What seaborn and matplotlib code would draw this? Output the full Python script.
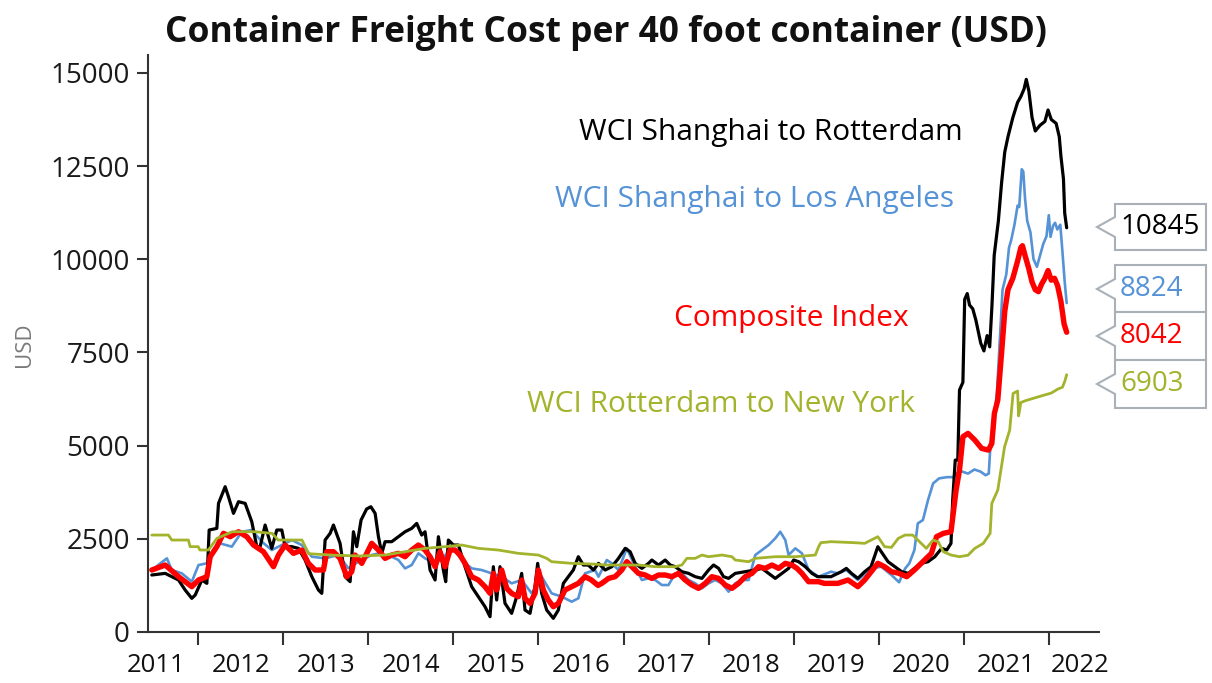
import matplotlib
matplotlib.use("Agg")
import matplotlib.pyplot as plt
from matplotlib.patches import Polygon
import seaborn as sns

# --- data (decimal year, USD) ---
rtm_t = [2011.455, 2011.612, 2011.769, 2011.847, 2011.925, 2011.965, 2012.043, 2012.102, 2012.129, 2012.219,
         2012.239, 2012.317, 2012.356, 2012.415, 2012.474, 2012.552, 2012.63, 2012.689, 2012.728, 2012.787,
         2012.865, 2012.924, 2012.983, 2013.022, 2013.1, 2013.179, 2013.257, 2013.336, 2013.414, 2013.453,
         2013.492, 2013.551, 2013.59, 2013.668, 2013.727, 2013.786, 2013.825, 2013.864, 2013.915, 2013.98,
         2014.03, 2014.08, 2014.119, 2014.158, 2014.197, 2014.275, 2014.354, 2014.432, 2014.51, 2014.569,
         2014.628, 2014.667, 2014.726, 2014.785, 2014.824, 2014.882, 2014.91, 2014.941, 2015.0, 2015.059,
         2015.137, 2015.215, 2015.294, 2015.372, 2015.431, 2015.47, 2015.509, 2015.548, 2015.607, 2015.685,
         2015.744, 2015.803, 2015.842, 2015.901, 2015.96, 2015.991, 2016.038, 2016.097, 2016.175, 2016.234,
         2016.293, 2016.351, 2016.41, 2016.469, 2016.528, 2016.586, 2016.647, 2016.706, 2016.784, 2016.863,
         2016.941, 2017.02, 2017.078, 2017.137, 2017.216, 2017.294, 2017.333, 2017.412, 2017.49, 2017.549,
         2017.608, 2017.686, 2017.765, 2017.843, 2017.922, 2018.0, 2018.059, 2018.118, 2018.176, 2018.235,
         2018.314, 2018.431, 2018.549, 2018.627, 2018.706, 2018.784, 2018.863, 2018.941, 2019.0, 2019.059,
         2019.137, 2019.216, 2019.28, 2019.44, 2019.56, 2019.62, 2019.68, 2019.755, 2019.835, 2019.91,
         2019.99, 2020.03, 2020.11, 2020.19, 2020.27, 2020.35, 2020.42, 2020.5, 2020.58, 2020.66,
         2020.74, 2020.8, 2020.85, 2020.87, 2020.9, 2020.93, 2020.95, 2020.99,
         2021.011, 2021.041, 2021.068, 2021.106, 2021.143, 2021.2, 2021.237, 2021.275, 2021.305, 2021.332,
         2021.358, 2021.407, 2021.445, 2021.482, 2021.52, 2021.577, 2021.633, 2021.671, 2021.709, 2021.735,
         2021.765, 2021.803, 2021.841, 2021.897, 2021.954, 2021.991, 2022.029, 2022.086, 2022.123, 2022.142,
         2022.172, 2022.187, 2022.21]
rtm_v = [1529, 1573, 1395, 1126, 903, 992, 1395, 1305, 2736, 2780,
         3451, 3898, 3630, 3183, 3496, 3451, 2959, 2289, 2289, 2870,
         2244, 2736, 2736, 2289, 2289, 2244, 1931, 1484, 1126, 1037,
         2467, 2646, 2870, 2378, 1484, 1350, 2690, 2289, 3004, 3300,
         3361, 3183, 2557, 2110, 2423, 2423, 2557, 2690, 2780, 2914,
         2601, 2690, 1663, 1395, 2557, 1663, 1350, 2467, 2333, 2333,
         1752, 1216, 948, 679, 411, 1752, 858, 1752, 769, 500,
         948, 1573, 590, 500, 1216, 1842, 1037, 590, 367, 590,
         1305, 1484, 1663, 2020, 1797, 1797, 1663, 1842, 1663, 1752,
         1976, 2244, 2154, 1842, 1707, 1842, 1931, 1797, 1931, 1797,
         1752, 1618, 1573, 1484, 1439, 1663, 1797, 1707, 1484, 1439,
         1573, 1618, 1663, 1707, 1573, 1439, 1573, 1707, 1931, 1886,
         1752, 1573, 1484, 1484, 1618, 1707, 1573, 1439, 1618, 1752,
         2289, 2154, 1886, 1752, 1618, 1573, 1707, 1842, 1886, 2020,
         2244, 2199, 2378, 3540, 4613, 4613, 6490, 6700,
         8926, 9080, 8772, 8670, 8362, 7746, 7541, 7952, 7650, 8772,
         10106, 11030, 12056, 12876, 13287, 13800, 14210, 14364, 14569, 14826,
         14518, 13800, 13441, 13595, 13697, 14005, 13749, 13646, 13287, 12774,
         12158, 11235, 10845]

la_t = [2011.455, 2011.632, 2011.69, 2011.808, 2011.925, 2012.004, 2012.102, 2012.16, 2012.258, 2012.395,
        2012.513, 2012.63, 2012.748, 2012.865, 2012.983, 2013.1, 2013.218, 2013.336, 2013.492, 2013.649,
        2013.766, 2013.884, 2014.04, 2014.119, 2014.197, 2014.275, 2014.354, 2014.432, 2014.51, 2014.589,
        2014.667, 2014.745, 2014.863, 2014.98, 2015.098, 2015.215, 2015.333, 2015.45, 2015.568, 2015.685,
        2015.803, 2015.92, 2016.038, 2016.155, 2016.273, 2016.39, 2016.469, 2016.547, 2016.665, 2016.706,
        2016.804, 2016.863, 2016.941, 2017.039, 2017.137, 2017.216, 2017.294, 2017.373, 2017.451, 2017.529,
        2017.608, 2017.686, 2017.765, 2017.843, 2017.922, 2018.0, 2018.078, 2018.157, 2018.235, 2018.314,
        2018.392, 2018.471, 2018.549, 2018.627, 2018.706, 2018.784, 2018.843, 2018.902, 2018.941, 2019.02,
        2019.098, 2019.176, 2019.294, 2019.44, 2019.52, 2019.62, 2019.755, 2019.913, 2020.03, 2020.15,
        2020.24, 2020.31, 2020.36, 2020.42, 2020.46, 2020.52, 2020.58, 2020.64, 2020.71, 2020.804, 2020.879,
        2020.917, 2020.974, 2021.05, 2021.125, 2021.2, 2021.256, 2021.294, 2021.313, 2021.35, 2021.39,
        2021.426, 2021.456, 2021.5, 2021.532, 2021.558, 2021.596, 2021.633, 2021.652, 2021.682, 2021.7,
        2021.72, 2021.746, 2021.784, 2021.82, 2021.86, 2021.897, 2021.935, 2021.973, 2022.0, 2022.02,
        2022.05, 2022.074, 2022.1, 2022.135, 2022.16, 2022.187, 2022.21]
la_v = [1663, 1976, 1663, 1573, 1350, 1797, 1842, 2110, 2378, 2289,
        2690, 2736, 2423, 2199, 2333, 2467, 2333, 2020, 1976, 2065,
        1707, 1886, 2065, 2110, 1976, 2020, 1931, 1707, 1797, 2110,
        1976, 1886, 1931, 2289, 1931, 1707, 1663, 1573, 1484, 1305,
        1395, 1037, 1484, 1037, 948, 814, 903, 1573, 1663, 1484,
        1931, 1842, 1663, 2244, 1752, 1395, 1439, 1395, 1260, 1260,
        1573, 1573, 1395, 1305, 1171, 1305, 1395, 1305, 1082, 1305,
        1395, 1395, 2065, 2199, 2333, 2512, 2690, 2467, 2065, 2244,
        2110, 1663, 1484, 1618, 1573, 1663, 1395, 1707, 1752, 1529,
        1334, 1700, 1842, 2199, 2914, 3004, 3540, 3987, 4121, 4155, 4155,
        4258, 4309, 4250, 4360, 4300, 4207, 4250, 4976, 5592, 6413,
        7951, 9183, 9593, 10311, 10516, 10927, 11440, 11400, 12415, 12350,
        11645, 11030, 10722, 10004, 9798, 10106, 10414, 10619, 11183, 10600,
        10900, 10978, 10800, 10927, 10209, 9388, 8824]

comp_t = [2011.455, 2011.612, 2011.769, 2011.925, 2012.004, 2012.102, 2012.141, 2012.219, 2012.297, 2012.376,
          2012.474, 2012.572, 2012.65, 2012.767, 2012.885, 2012.944, 2013.022, 2013.12, 2013.218, 2013.296,
          2013.375, 2013.473, 2013.512, 2013.59, 2013.668, 2013.747, 2013.805, 2013.845, 2013.923, 2014.001,
          2014.04, 2014.119, 2014.197, 2014.275, 2014.354, 2014.432, 2014.51, 2014.589, 2014.667, 2014.726,
          2014.785, 2014.843, 2014.902, 2014.961, 2015.02, 2015.078, 2015.137, 2015.215, 2015.294, 2015.372,
          2015.431, 2015.47, 2015.509, 2015.568, 2015.627, 2015.685, 2015.764, 2015.803, 2015.842, 2015.901,
          2015.96, 2015.999, 2016.058, 2016.116, 2016.175, 2016.234, 2016.312, 2016.39, 2016.469, 2016.547,
          2016.62, 2016.7, 2016.745, 2016.824, 2016.902, 2016.98, 2017.039, 2017.098, 2017.176, 2017.255,
          2017.333, 2017.412, 2017.49, 2017.569, 2017.647, 2017.725, 2017.804, 2017.882, 2017.961, 2018.039,
          2018.118, 2018.196, 2018.275, 2018.353, 2018.431, 2018.51, 2018.588, 2018.667, 2018.745, 2018.824,
          2018.902, 2018.98, 2019.039, 2019.098, 2019.176, 2019.294, 2019.36, 2019.52, 2019.64, 2019.755,
          2019.835, 2019.99, 2020.07, 2020.15, 2020.23, 2020.33, 2020.42, 2020.52, 2020.62, 2020.68,
          2020.76, 2020.85, 2020.91, 2020.95, 2020.99, 2021.05, 2021.13, 2021.21, 2021.29, 2021.33,
          2021.36, 2021.40, 2021.445, 2021.482,
          2021.52, 2021.577, 2021.633, 2021.671, 2021.69, 2021.72, 2021.765, 2021.803, 2021.841, 2021.878,
          2021.916, 2021.954, 2021.991, 2022.029, 2022.067, 2022.104, 2022.142, 2022.18, 2022.21]
comp_v = [1663, 1797, 1484, 1216, 1395, 1484, 2020, 2289, 2646, 2557,
          2690, 2557, 2333, 2154, 1752, 2065, 2333, 2110, 2199, 1842,
          1663, 1663, 2154, 2154, 1976, 1484, 1618, 2065, 1842, 2199,
          2378, 2199, 1976, 2065, 2110, 2020, 2199, 2333, 2199, 2020,
          1752, 2154, 1752, 2199, 2199, 2065, 1842, 1484, 1395, 1216,
          1037, 1573, 1126, 1663, 1171, 1037, 948, 1395, 903, 769,
          1037, 1663, 1126, 858, 679, 769, 1126, 1216, 1305, 1484,
          1400, 1250, 1305, 1439, 1484, 1663, 1886, 1752, 1573, 1529,
          1439, 1529, 1529, 1484, 1573, 1395, 1260, 1171, 1305, 1484,
          1439, 1260, 1171, 1305, 1484, 1573, 1752, 1707, 1797, 1707,
          1842, 1797, 1707, 1573, 1350, 1350, 1305, 1305, 1395, 1216,
          1395, 1842, 1750, 1618, 1580, 1484, 1663, 1886, 2110, 2557,
          2646, 2691, 3808, 4345, 5239, 5328, 5149, 4926, 4881, 5060,
          5864, 6222, 7500, 8600,
          9183, 9491, 9952, 10311, 10363, 10106, 9747, 9388, 9183, 9131,
          9337, 9491, 9696, 9439, 9490, 9286, 8875, 8259, 8042]

ny_t = [2011.455, 2011.65, 2011.69, 2011.885, 2011.905, 2012.0, 2012.02, 2012.12, 2012.22, 2012.4,
        2012.67, 2012.87, 2012.94, 2013.22, 2013.3, 2013.6, 2013.9, 2014.197, 2014.432, 2014.667,
        2014.902, 2015.098, 2015.294, 2015.529, 2015.764, 2015.999, 2016.097, 2016.155, 2016.39, 2016.665,
        2016.784, 2016.98, 2017.176, 2017.373, 2017.608, 2017.686, 2017.745, 2017.843, 2017.922, 2018.0,
        2018.157, 2018.275, 2018.314, 2018.471, 2018.549, 2018.784, 2019.02, 2019.255, 2019.294, 2019.32,
        2019.44, 2019.715, 2019.835, 2019.99, 2020.07, 2020.15, 2020.23, 2020.31, 2020.4, 2020.46,
        2020.56, 2020.64, 2020.7, 2020.76, 2020.85, 2020.95, 2021.05, 2021.13, 2021.23, 2021.31,
        2021.33, 2021.4, 2021.48, 2021.54, 2021.58,
        2021.633, 2021.645, 2021.671, 2021.727, 2021.803, 2021.878, 2021.954, 2022.029, 2022.104,
        2022.16, 2022.187, 2022.21]
ny_v = [2601, 2601, 2467, 2467, 2289, 2289, 2200, 2200, 2512, 2690,
        2690, 2646, 2467, 2467, 2100, 2060, 2040, 2065, 2154, 2244,
        2289, 2333, 2244, 2199, 2110, 2065, 1976, 1886, 1842, 1820,
        1797, 1797, 1797, 1752, 1752, 1797, 1976, 1976, 2065, 2020,
        2065, 2020, 1931, 1886, 1976, 2020, 2020, 2065, 2289, 2396,
        2423, 2396, 2378, 2557, 2289, 2270, 2512, 2601, 2601, 2467,
        2244, 2467, 2420, 2154, 2065, 2020, 2060, 2244, 2378, 2646,
        3451, 3808, 4970, 5417, 6400,
        6464, 5797, 6156, 6207, 6259, 6310, 6361, 6410, 6515,
        6566, 6720, 6903]

series_names = ["WCI Shanghai to Rotterdam", "WCI Shanghai to Los Angeles",
                "Composite Index", "WCI Rotterdam to New York"]
end_labels = ["10845", "8824", "8042", "6903"]
year_labels = [str(y) for y in range(2011, 2023)]

# --- styling ---
BLACK, BLUE, RED, GREEN = "#000000", "#5592d6", "#ff0000", "#a3b32c"
W, H = 1212, 683

sns.set_style("white")
plt.rcParams["font.family"] = ["Open Sans", "DejaVu Sans"]

fig = plt.figure(figsize=(W / 100, H / 100), dpi=100)
ax = fig.add_axes([148 / W, 51 / H, (1099 - 148) / W, (632 - 55) / H])

sns.lineplot(x=la_t, y=la_v, ax=ax, color=BLUE, linewidth=1.9, estimator=None, sort=False)
sns.lineplot(x=rtm_t, y=rtm_v, ax=ax, color=BLACK, linewidth=2.3, estimator=None, sort=False)
sns.lineplot(x=comp_t, y=comp_v, ax=ax, color=RED, linewidth=3.9, estimator=None, sort=False)
sns.lineplot(x=ny_t, y=ny_v, ax=ax, color=GREEN, linewidth=2.0, estimator=None, sort=False)

ax.set_xlim(2011.41, 2022.59)
ax.set_ylim(0, 15480)

# axes look
for s in ["top", "right"]:
    ax.spines[s].set_visible(False)
for s in ["left", "bottom"]:
    ax.spines[s].set_color("#333333")
    ax.spines[s].set_linewidth(1.5)

ax.set_yticks(range(0, 15001, 2500))
ax.set_yticklabels([str(v) for v in range(0, 15001, 2500)], fontsize=20, color="#1a1a1a")
ax.tick_params(axis="y", left=True, length=8, width=1.5, color="#333333", pad=5)

ax.set_xticks(range(2012, 2023))
ax.set_xticklabels([])
ax.tick_params(axis="x", which="major", bottom=True, length=9, width=1.5,
               color="#333333", direction="out")
label_pos = [y + 0.5 for y in range(2011, 2022)] + [2022.37]
ax.set_xticks(label_pos, minor=True)
ax.set_xticklabels(year_labels, minor=True, fontsize=18.5, color="#111111")
ax.tick_params(axis="x", which="minor", bottom=True, length=0, pad=15)
ax.set_xlabel("")
ax.set_ylabel("")
ax.grid(False)

fig.text(25 / W, 1 - 345 / H, "USD", rotation=90, ha="center", va="center",
         fontsize=16, color="#7a7a7a")

fig.text(606 / W, 1 - 33 / H, "Container Freight Cost per 40 foot container (USD)",
         ha="center", va="center", fontsize=25.5, fontweight="bold", color="#111111")

# series names inside the plot
name_pos = [(2018.73, 13410), (2018.545, 11613), (2018.97, 8421), (2018.146, 6115)]
for name, col, (xx, yy) in zip(series_names, [BLACK, BLUE, RED, GREEN], name_pos):
    ax.text(xx, yy, name, color=col, fontsize=21.5, ha="center", va="center")

# end-value callout boxes (pixel layout: top, bottom, pointer y)
box_rows = [(204, 250, 227), (265, 312, 289), (312, 360, 336), (360, 408, 384)]
left, right, tip_x = 1115, 1206, 1097
for txt, col, (top, bot, tip) in zip(end_labels, [BLACK, BLUE, RED, GREEN], box_rows):
    pts = [(left, top), (right, top), (right, bot), (left, bot),
           (left, tip + 10), (tip_x, tip), (left, tip - 10)]
    pts = [(px / W, 1 - py / H) for px, py in pts]
    fig.patches.append(Polygon(pts, closed=True, transform=fig.transFigure,
                               facecolor="white", edgecolor="#a9b0b7", linewidth=1.5))
    fig.text(1120 / W, 1 - (top + bot) / 2 / H, txt, color=col, fontsize=20,
             ha="left", va="center")

fig.savefig("out.png", dpi=100)
